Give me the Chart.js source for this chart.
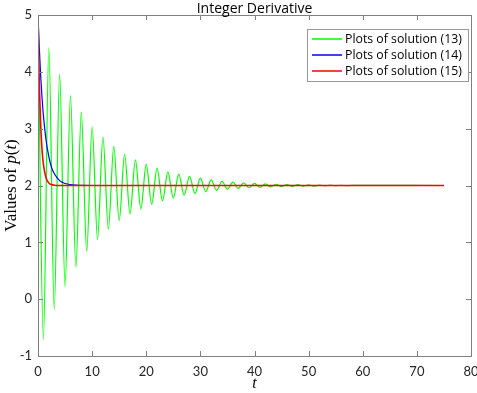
<!DOCTYPE html>
<html>
<head>
<meta charset="utf-8">
<script src="https://cdn.jsdelivr.net/npm/chart.js@4.4.1/dist/chart.umd.min.js"></script>
<style>
  html, body { margin: 0; padding: 0; background: #fff; }
</style>
</head>
<body>
<canvas id="chart" width="477" height="393"></canvas>
<script>
// values
const chartTitle = 'Integer Derivative';
const seriesLabels = ['Plots of solution (13)', 'Plots of solution (14)', 'Plots of solution (15)'];
const seriesColors = ['#00ff00', '#0000ff', '#ff0000'];

// solution (13): turning points of the damped oscillation
const tGreen = [0, 1, 2, 3, 4, 5, 6, 7, 8, 9, 10, 11, 12, 13, 14, 15, 16, 17, 18, 19, 20,
  21, 22, 23, 24, 25, 26, 27, 28, 29, 30, 31, 32, 33, 34, 35, 36, 37, 38, 39, 40,
  41, 42, 43, 44, 45, 46, 47, 48, 49, 50, 51, 52, 53, 54, 55, 56, 57, 58, 75];
const pGreen = [5, -0.71, 4.42, -0.18, 3.96, 0.22, 3.58, 0.56, 3.29, 0.84, 3.03,
  1.05, 2.85, 1.23, 2.69, 1.38, 2.55, 1.50, 2.45, 1.59, 2.37,
  1.67, 2.30, 1.73, 2.24, 1.78, 2.20, 1.83, 2.16, 1.86, 2.13,
  1.89, 2.10, 1.915, 2.075, 1.935, 2.058, 1.95, 2.045, 1.96, 2.036,
  1.968, 2.028, 1.975, 2.022, 1.98, 2.018, 1.984, 2.014, 1.988, 2.011,
  1.99, 2.008, 1.993, 2.006, 1.995, 2.004, 1.997, 2.002, 2];

// solution (14)
const tBlue = [0, 0.25, 0.5, 0.75, 1, 1.5, 2, 2.5, 3, 4, 5, 6, 7, 8, 10, 75];
const pBlue = [5, 4.40, 3.92, 3.54, 3.23, 2.79, 2.51, 2.32, 2.21, 2.085, 2.035, 2.014, 2.006, 2.002, 2, 2];

// solution (15)
const tRed = [0, 0.1, 0.2, 0.3, 0.5, 0.75, 1, 1.5, 2, 2.5, 3, 4, 75];
const pRed = [5, 4.43, 3.97, 3.60, 3.05, 2.62, 2.37, 2.13, 2.045, 2.016, 2.005, 2.001, 2];

const xTicks = [0, 10, 20, 30, 40, 50, 60, 70, 80];
const yTicks = [-1, 0, 1, 2, 3, 4, 5];

const toPoints = (ts, ps) => ts.map((t, i) => ({ x: t, y: ps[i] }));

Chart.defaults.font.family = 'Lato, "Open Sans", sans-serif';
Chart.defaults.font.size = 13;
Chart.defaults.color = '#262626';

// box, inward ticks, titles and legend in the MATLAB style
const matlabFrame = {
  id: 'matlabFrame',
  afterDraw(chart) {
    const { ctx, chartArea: a, scales: { x, y } } = chart;
    ctx.save();
    ctx.strokeStyle = '#808080';
    ctx.lineWidth = 1;
    ctx.strokeRect(a.left + 0.5, a.top + 0.5, a.right - a.left, a.bottom - a.top);
    ctx.beginPath();
    xTicks.forEach(v => {
      const px = Math.round(x.getPixelForValue(v)) + 0.5;
      ctx.moveTo(px, a.bottom); ctx.lineTo(px, a.bottom - 5);
      ctx.moveTo(px, a.top); ctx.lineTo(px, a.top + 5);
    });
    yTicks.forEach(v => {
      const py = Math.round(y.getPixelForValue(v)) + 0.5;
      ctx.moveTo(a.left, py); ctx.lineTo(a.left + 5, py);
      ctx.moveTo(a.right, py); ctx.lineTo(a.right - 5, py);
    });
    ctx.stroke();

    // title
    ctx.fillStyle = '#000';
    ctx.font = '14px "Open Sans", sans-serif';
    ctx.textAlign = 'center';
    ctx.textBaseline = 'bottom';
    ctx.fillText(chartTitle, (a.left + a.right) / 2, a.top + 1);

    // x title
    ctx.font = 'italic 16px "Liberation Serif", serif';
    ctx.textBaseline = 'middle';
    ctx.fillText('t', (a.left + a.right) / 2, 384);

    // y title, mixed upright and italic
    const parts = [
      ['Values of ', '17px "Liberation Serif", serif'],
      ['p', 'italic 17px "Liberation Serif", serif'],
      ['(', '17px "Liberation Serif", serif'],
      ['t', 'italic 17px "Liberation Serif", serif'],
      [')', '17px "Liberation Serif", serif']
    ];
    let total = 0;
    parts.forEach(p => { ctx.font = p[1]; total += ctx.measureText(p[0]).width; });
    ctx.translate(12, (a.top + a.bottom) / 2);
    ctx.rotate(-Math.PI / 2);
    ctx.textAlign = 'left';
    let cx = -total / 2;
    parts.forEach(p => { ctx.font = p[1]; ctx.fillText(p[0], cx, 0); cx += ctx.measureText(p[0]).width; });
    ctx.setTransform(1, 0, 0, 1, 0, 0);

    // legend
    const lx = 307.5, ly = 29.5, lw = 161, lh = 52;
    ctx.fillStyle = '#fff';
    ctx.fillRect(lx, ly, lw, lh);
    ctx.strokeStyle = '#999';
    ctx.strokeRect(lx, ly, lw, lh);
    ctx.font = '12.3px "Open Sans", sans-serif';
    ctx.textAlign = 'left';
    ctx.textBaseline = 'middle';
    ctx.lineWidth = 1.5;
    seriesLabels.forEach((label, i) => {
      const yy = 39 + i * 16;
      ctx.strokeStyle = seriesColors[i];
      ctx.beginPath();
      ctx.moveTo(312, yy); ctx.lineTo(342, yy);
      ctx.stroke();
      ctx.fillStyle = '#000';
      ctx.fillText(label, 345, yy + 0.5);
    });
    ctx.restore();
  }
};

new Chart(document.getElementById('chart'), {
  type: 'line',
  data: {
    datasets: [
      { label: seriesLabels[0], data: toPoints(tGreen, pGreen), borderColor: seriesColors[0], borderWidth: 1.2, order: 3 },
      { label: seriesLabels[1], data: toPoints(tBlue, pBlue), borderColor: seriesColors[1], borderWidth: 1.2, order: 2 },
      { label: seriesLabels[2], data: toPoints(tRed, pRed), borderColor: seriesColors[2], borderWidth: 1.6, order: 1 }
    ]
  },
  options: {
    responsive: false,
    animation: false,
    layout: { padding: { top: 15, right: 6, left: 0, bottom: 0 } },
    elements: {
      point: { radius: 0 },
      line: { cubicInterpolationMode: 'monotone' }
    },
    plugins: { legend: { display: false }, title: { display: false }, tooltip: { enabled: false } },
    scales: {
      x: {
        type: 'linear', min: 0, max: 80,
        grid: { display: false, drawTicks: false },
        border: { display: false },
        ticks: { padding: 8, maxRotation: 0 },
        afterBuildTicks: s => { s.ticks = xTicks.map(v => ({ value: v })); },
        afterFit: s => { s.height = 37; s.paddingLeft = 0; s.paddingRight = 0; }
      },
      y: {
        min: -1, max: 5,
        grid: { display: false, drawTicks: false },
        border: { display: false },
        ticks: { padding: 6 },
        afterBuildTicks: s => { s.ticks = yTicks.map(v => ({ value: v })); },
        afterFit: s => { s.width = 38; s.paddingTop = 0; s.paddingBottom = 0; }
      }
    }
  },
  plugins: [matlabFrame]
});
</script>
</body>
</html>
